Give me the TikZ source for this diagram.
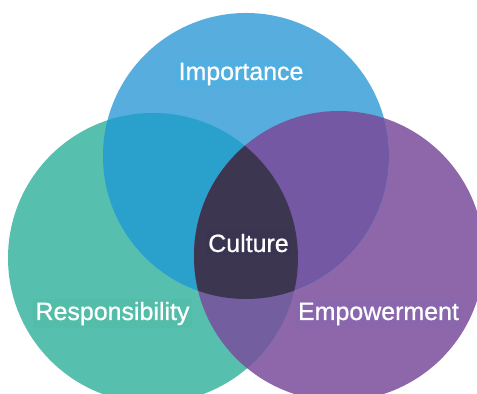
\documentclass[tikz,border=0pt]{standalone}
\usepackage{fontspec}
\setmainfont{Liberation Sans}[FakeBold=0.8]
\definecolor{impblue}{HTML}{57ADDD}
\definecolor{resgreen}{HTML}{57BFAD}
\definecolor{emppurple}{HTML}{8E67AB}
\definecolor{impres}{HTML}{29A1CC}
\definecolor{impemp}{HTML}{7558A3}
\definecolor{resemp}{HTML}{735E9F}
\definecolor{core}{HTML}{3D3650}
\definecolor{impbox}{HTML}{50AEE0}
\definecolor{resbox}{HTML}{53BDAA}
\definecolor{empbox}{HTML}{8A67AD}
\definecolor{corebox}{HTML}{393450}
\tikzset{
  lbl/.style={text=white,font=\fontsize{14.2}{16}\selectfont,inner sep=1.5pt,anchor=base},
}
\begin{document}
\begin{tikzpicture}[x=0.02cm,y=0.02cm]
\useasboundingbox (0,0) rectangle (477,394);
\coordinate (imp) at (246,238);
\coordinate (res) at (153,136);
\coordinate (emp) at (339,138);
% the three circles
\fill[resgreen] (res) circle (145);
\fill[emppurple] (emp) circle (145);
\fill[impblue] (imp) circle (143);
% overlaps
\begin{scope}
\clip (imp) circle (143);
\fill[impres] (res) circle (145);
\fill[impemp] (emp) circle (145);
\end{scope}
\begin{scope}
\clip (res) circle (145);
\fill[resemp] (emp) circle (145);
\clip (imp) circle (143);
\fill[core] (emp) circle (145);
\end{scope}
% labels
\node[lbl,fill=impbox] (imp-lbl) at (241,314) {Importance};
\node[lbl,fill=resbox] (res-lbl) at (112.5,74) {Responsibility};
\node[lbl,fill=empbox] (emp-lbl) at (378.5,74) {Empowerment};
\node[lbl,fill=corebox] (core-lbl) at (248.5,142) {Culture};
\end{tikzpicture}
\end{document}
